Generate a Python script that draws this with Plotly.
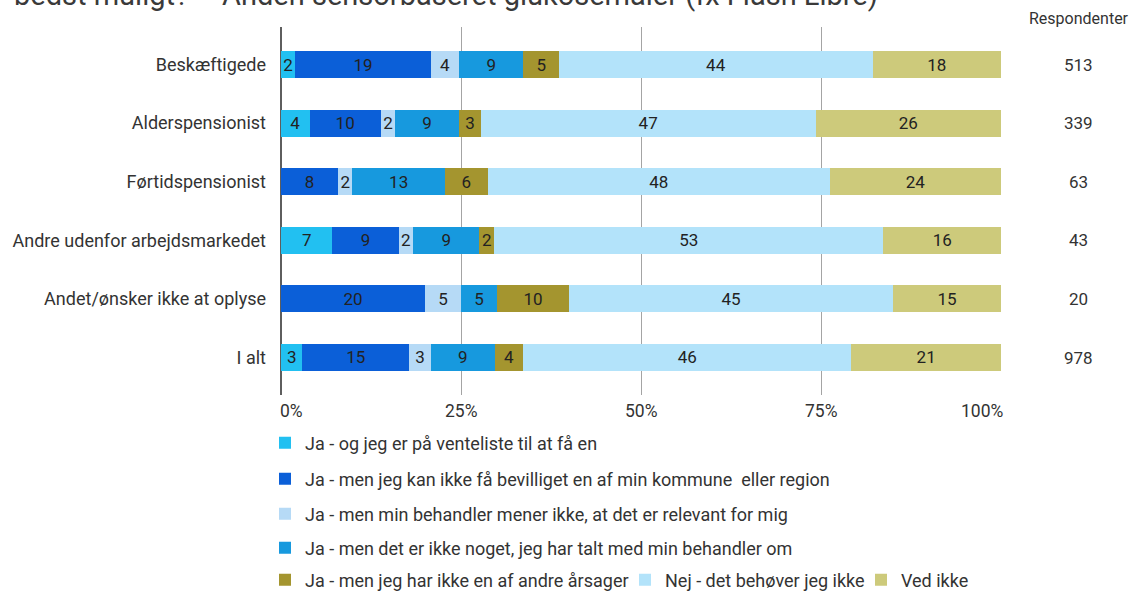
import plotly.graph_objects as go

# Respondent groups (rows, top to bottom) and their number of respondents
categories = [
    "Beskæftigede",
    "Alderspensionist",
    "Førtidspensionist",
    "Andre udenfor arbejdsmarkedet",
    "Andet/ønsker ikke at oplyse",
    "I alt",
]
respondents = [513, 339, 63, 43, 20, 978]

# Answer shares in percent, one list per answer option
venteliste = [2, 4, 0, 7, 0, 3]
ikke_bevilliget = [19, 10, 8, 9, 20, 15]
behandler_mener_ikke = [4, 2, 2, 2, 5, 3]
ikke_talt_med = [9, 9, 13, 9, 5, 9]
andre_aarsager = [5, 3, 6, 2, 10, 4]
behoever_ikke = [44, 47, 48, 53, 45, 46]
ved_ikke = [18, 26, 24, 16, 15, 21]

series_names = [
    "Ja - og jeg er på venteliste til at få en",
    "Ja - men jeg kan ikke få bevilliget en af min kommune \u00a0eller region",
    "Ja - men min behandler mener ikke, at det er relevant for mig",
    "Ja - men det er ikke noget, jeg har talt med min behandler om",
    "Ja - men jeg har ikke en af andre årsager",
    "Nej - det behøver jeg ikke",
    "Ved ikke",
]
series_values = [venteliste, ikke_bevilliget, behandler_mener_ikke, ikke_talt_med,
                 andre_aarsager, behoever_ikke, ved_ikke]
series_colors = ["#22C0F1", "#0B5FD8", "#B6DAF6", "#1799DE", "#A4952F", "#B3E3FA", "#CDCA7B"]
series_legends = ["legend", "legend2", "legend3", "legend4", "legend5", "legend6", "legend7"]

x_ticks = [0, 25, 50, 75, 100]
x_tick_labels = ["0%", "25%", "50%", "75%", "100%"]

title_text = "bedst muligt? – Anden sensorbaseret glukosemåler (fx Flash Libre)"
respondent_header = "Respondenter"

FONT = "Roboto, 'Noto Sans', sans-serif"
TEXT_COLOR = "#333333"

W, H = 1148, 594
L, R, T, B = 281, 147, 27, 199
plot_w = W - L - R
plot_h = H - T - B


def px(pixel_x):
    """Paper x coordinate for a pixel column measured from the left of the page."""
    return (pixel_x - L) / plot_w


def py(pixel_y):
    """Paper y coordinate for a pixel row measured from the top of the page."""
    return (H - B - pixel_y) / plot_h


fig = go.Figure()
for name, vals, color, leg in zip(series_names, series_values, series_colors, series_legends):
    fig.add_trace(go.Bar(
        y=categories,
        x=vals,
        name=name,
        orientation="h",
        marker=dict(color=color, line=dict(width=0)),
        text=[str(v) if v else "" for v in vals],
        texttemplate="%{text}",
        textposition="inside",
        insidetextanchor="middle",
        textangle=0,
        constraintext="none",
        textfont=dict(family=FONT, size=17, color="#222222"),
        legend=leg,
        hoverinfo="skip",
    ))

annotations = []
# Heading running off the top of the page
annotations.append(dict(
    text=title_text, xref="paper", yref="paper", x=px(880), y=1,
    xanchor="right", yanchor="bottom", yshift=13, showarrow=False,
    font=dict(family=FONT, size=29, color="#3a3a3a"),
))
# Respondent counts column
annotations.append(dict(
    text=respondent_header, xref="paper", yref="paper", x=px(1079), y=1,
    xanchor="center", yanchor="middle", yshift=9, showarrow=False,
    font=dict(family=FONT, size=16, color=TEXT_COLOR),
))
for cat, n in zip(categories, respondents):
    annotations.append(dict(
        text=str(n), xref="paper", yref="y", x=px(1078), y=cat,
        xanchor="center", yanchor="middle", showarrow=False,
        font=dict(family=FONT, size=17, color=TEXT_COLOR),
    ))
# Percent tick labels under the gridlines
for i, (tv, tl) in enumerate(zip(x_ticks, x_tick_labels)):
    if i == 0:
        anchor, shift = "left", -3
    elif i == len(x_ticks) - 1:
        anchor, shift = "right", 5
    else:
        anchor, shift = "center", 0
    annotations.append(dict(
        text=tl, xref="x", yref="paper", x=tv, y=0, xanchor=anchor, yanchor="middle",
        xshift=shift, yshift=-16, showarrow=False,
        font=dict(family=FONT, size=17.5, color=TEXT_COLOR),
    ))

legend_base = dict(
    xanchor="left", yanchor="middle",
    font=dict(family=FONT, size=18, color=TEXT_COLOR),
    bgcolor="rgba(0,0,0,0)", itemwidth=30, traceorder="normal", orientation="v",
    itemclick=False, itemdoubleclick=False,
)
# Legend entry positions: (left edge of the colour box, row centre) in pixels
legend_pos = [(281, 443), (281, 479), (281, 514), (281, 548),
              (281, 580), (641, 580), (877, 580)]
legend_layout = {}
for i, (bx, ry) in enumerate(legend_pos):
    key = "legend" if i == 0 else f"legend{i + 1}"
    legend_layout[key] = dict(legend_base, x=px(bx - 16), y=py(ry))

fig.update_layout(
    width=W, height=H,
    margin=dict(l=L, r=R, t=T, b=B, pad=0, autoexpand=False),
    template="none",
    paper_bgcolor="white", plot_bgcolor="white",
    barmode="stack", barnorm="percent", bargap=0.54,
    font=dict(family=FONT, color=TEXT_COLOR),
    showlegend=True,
    annotations=annotations,
    xaxis=dict(
        range=[0, 100], tickvals=x_ticks, showticklabels=False,
        showgrid=True, gridcolor="#A4A4A4", gridwidth=1,
        zeroline=True, zerolinecolor="#5E5E5E", zerolinewidth=1.5,
        showline=False, ticks="", fixedrange=True,
    ),
    yaxis=dict(
        type="category", categoryorder="array", categoryarray=categories,
        range=[5.64, -0.64], showgrid=False, zeroline=False, showline=False,
        ticks="", ticklabelstandoff=14, automargin=False,
        tickfont=dict(family=FONT, size=18, color=TEXT_COLOR), fixedrange=True,
    ),
    **legend_layout,
)

fig.write_html("out.html", config=dict(displayModeBar=False))
